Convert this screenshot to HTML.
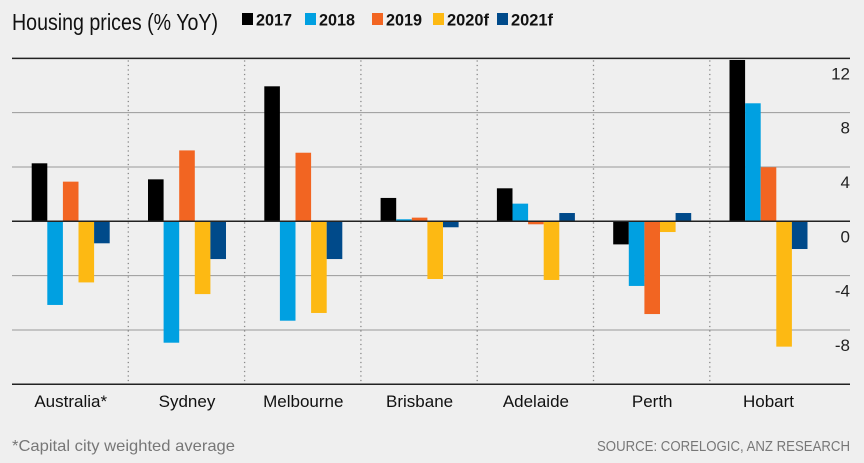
<!DOCTYPE html>
<html><head><meta charset="utf-8"><style>
html,body{margin:0;padding:0;background:#efefef;}
svg{display:block;font-family:"Liberation Sans",sans-serif;}
</style></head><body>
<svg id="chart" width="864" height="463" viewBox="0 0 864 463">
<rect width="864" height="463" fill="#efefef"/>
<text x="12" y="30" font-size="23" fill="#111" textLength="206" lengthAdjust="spacingAndGlyphs">Housing prices (% YoY)</text>
<g id="legend"></g>
<g id="grid"></g>
<g id="bars"></g>
<g id="labels"></g>
<text x="12" y="451" font-size="16" fill="#777" textLength="223" lengthAdjust="spacingAndGlyphs">*Capital city weighted average</text>
<text x="597" y="451" font-size="15" fill="#777" textLength="253" lengthAdjust="spacingAndGlyphs">SOURCE:  CORELOGIC, ANZ RESEARCH</text>
</svg>
<script>
const categories = ["Australia*","Sydney","Melbourne","Brisbane","Adelaide","Perth","Hobart"];
const seriesNames = ["2017","2018","2019","2020f","2021f"];
const seriesColors = ["#000000","#00a0e1","#f26522","#fdb913","#004a8a"];
const s2017 = [4.27, 3.09, 9.94, 1.72, 2.43, -1.7, 11.88];
const s2018 = [-6.16, -8.94, -7.32, 0.15, 1.3, -4.76, 8.69];
const s2019 = [2.92, 5.22, 5.05, 0.27, -0.22, -6.83, 3.98];
const s2020f = [-4.5, -5.36, -6.75, -4.25, -4.32, -0.79, -9.23];
const s2021f = [-1.62, -2.78, -2.78, -0.44, 0.61, 0.61, -2.04];
const yTicks = [12, 8, 4, 0, -4, -8];
const yTickLabels = ["12","8","4","0","-4","-8"];

const NS = "http://www.w3.org/2000/svg";
const plotL = 12, plotR = 850, groupW = 116.3, barW = 15.6, barOff = 19.7;
const zeroY = 221.3, pxPerUnit = 13.58;
function yScale(v){ return zeroY - v * pxPerUnit; }
function xGroup(i){ return plotL + i * groupW; }
function mk(tag, attrs, parent){ const e = document.createElementNS(NS, tag); for (const k in attrs) e.setAttribute(k, attrs[k]); parent.appendChild(e); return e; }

const legend = document.getElementById("legend");
const legX = [242, 305, 372, 433, 497];
const legTextW = [36, 36, 36, 42, 42];
seriesNames.forEach((n, i) => {
  const r = mk("rect", {x: legX[i], y: 13, width: 11, height: 12, fill: seriesColors[i]}, legend);
  
  
  const t = mk("text", {x: legX[i] + 14, y: 25.5, "font-size": 17, "font-weight": "bold", fill: "#111", textLength: legTextW[i], lengthAdjust: "spacingAndGlyphs"}, legend);
  t.textContent = n;
  
  
});

const grid = document.getElementById("grid");
[12, 8, 4, -4, -8].forEach(v => {
  const l = mk("line", {x1: plotL, x2: plotR, y1: yScale(v), y2: yScale(v), stroke: v === 12 ? "#222" : "#9a9a9a", "stroke-width": v === 12 ? 1.5 : 1}, grid);
  
  
});
for (let i = 1; i < categories.length; i++) {
  const x = xGroup(i);
  const l = mk("line", {x1: x, x2: x, y1: yScale(12) + 2, y2: yScale(-12), stroke: "#888", "stroke-width": 1.3, "stroke-dasharray": "1.3 3.2"}, grid);
  
  
}

const bars = document.getElementById("bars");
const allSeries = [s2017, s2018, s2019, s2020f, s2021f];
allSeries.forEach((arr, si) => {
  arr.forEach((v, ci) => {
    const x = xGroup(ci) + barOff + si * barW;
    const y0 = yScale(Math.max(v, 0)), y1 = yScale(Math.min(v, 0));
    const r = mk("rect", {x: x, y: y0, width: barW, height: Math.max(y1 - y0, 0.8), fill: seriesColors[si]}, bars);
    
    
  });
});
const zl = mk("line", {x1: plotL, x2: plotR, y1: zeroY, y2: zeroY, stroke: "#222", "stroke-width": 1.5}, bars);


const bl = mk("line", {x1: plotL, x2: plotR, y1: yScale(-12), y2: yScale(-12), stroke: "#222", "stroke-width": 1.5}, bars);



const labels = document.getElementById("labels");
yTicks.forEach((v, i) => {
  const t = mk("text", {x: 850, y: yScale(v) + 21, "font-size": 17, fill: "#222", "text-anchor": "end"}, labels);
  t.textContent = yTickLabels[i];
  
  
});
categories.forEach((c, i) => {
  const t = mk("text", {x: xGroup(i) + barOff + 2.5 * barW, y: 407, "font-size": 17, fill: "#111", "text-anchor": "middle"}, labels);
  t.textContent = c;
  
  
});
</script>
</body></html>
